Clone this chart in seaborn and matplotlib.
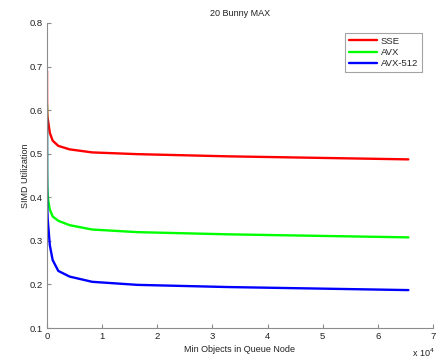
import matplotlib
matplotlib.use("Agg")
import matplotlib.pyplot as plt
from matplotlib.ticker import FuncFormatter, MultipleLocator
import seaborn as sns
import pandas as pd

# Minimum objects per queue node (powers of two)
min_objects = [1, 2, 4, 8, 16, 32, 64, 128, 256, 512, 1024, 2048, 4096,
               8192, 16384, 32768, 65536]
sse = [0.69, 0.66, 0.64, 0.625, 0.612, 0.60, 0.59, 0.58, 0.570, 0.548,
       0.530, 0.518, 0.510, 0.503, 0.499, 0.494, 0.487]
avx = [0.61, 0.56, 0.52, 0.49, 0.465, 0.445, 0.425, 0.405, 0.390, 0.372,
       0.356, 0.346, 0.336, 0.326, 0.320, 0.315, 0.308]
avx512 = [0.58, 0.53, 0.49, 0.45, 0.42, 0.39, 0.37, 0.35, 0.330, 0.290,
          0.256, 0.231, 0.218, 0.206, 0.199, 0.194, 0.187]
series_names = ["SSE", "AVX", "AVX-512"]
series_colors = ["#ff0000", "#00ff00", "#0000ff"]

df = pd.DataFrame({
    "x": min_objects * 3,
    "y": sse + avx + avx512,
    "isa": [n for n in series_names for _ in min_objects],
})

sns.set_style("white")
plt.rcParams["font.family"] = ["Liberation Sans", "DejaVu Sans"]
plt.rcParams["font.size"] = 6.5

fig = plt.figure(figsize=(4.38, 3.6), dpi=100)
ax = fig.add_axes([47 / 438, 32 / 360, 386 / 438, 305 / 360])

sns.lineplot(data=df, x="x", y="y", hue="isa", hue_order=series_names,
             palette=series_colors, linewidth=1.7, ax=ax, legend=True)

ax.set_xlim(0, 70000)
ax.set_ylim(0.1, 0.8)
ax.xaxis.set_major_locator(MultipleLocator(10000))
ax.xaxis.set_major_formatter(FuncFormatter(lambda v, p: f"{v / 1e4:g}"))
ax.yaxis.set_major_locator(MultipleLocator(0.1))
ax.yaxis.set_major_formatter(FuncFormatter(lambda v, p: f"{v:.1f}"))

for side in ["top", "right"]:
    ax.spines[side].set_visible(False)
for side in ["left", "bottom"]:
    ax.spines[side].set_color("#8c8c8c")
    ax.spines[side].set_linewidth(0.8)
ax.tick_params(direction="in", length=3, width=0.8, color="#8c8c8c",
               labelsize=6.8, labelcolor="#222222", pad=3,
               left=True, bottom=True)

ax.set_title("20 Bunny MAX", fontsize=6.5, pad=5, color="#222222")
ax.set_xlabel("Min Objects in Queue Node", fontsize=6.5, labelpad=3, color="#222222")
ax.set_ylabel("SIMD Utilization", fontsize=6.5, labelpad=0, color="#222222")
ax.text(1.004, -0.062, r"x 10$^4$", transform=ax.transAxes, ha="right",
        va="top", fontsize=6.5, color="#222222")

leg = ax.legend(loc="upper right",
                bbox_to_anchor=((422 - 47) / 386, (328 - 33) / 305),
                frameon=True, fancybox=False, fontsize=6.8, handlelength=3,
                borderpad=0.4, labelspacing=0.25, handletextpad=0.4,
                borderaxespad=0)
leg.get_frame().set_edgecolor("#8c8c8c")
leg.get_frame().set_linewidth(0.8)
leg.set_title(None)

fig.savefig("out.png", dpi=100, facecolor="white")
